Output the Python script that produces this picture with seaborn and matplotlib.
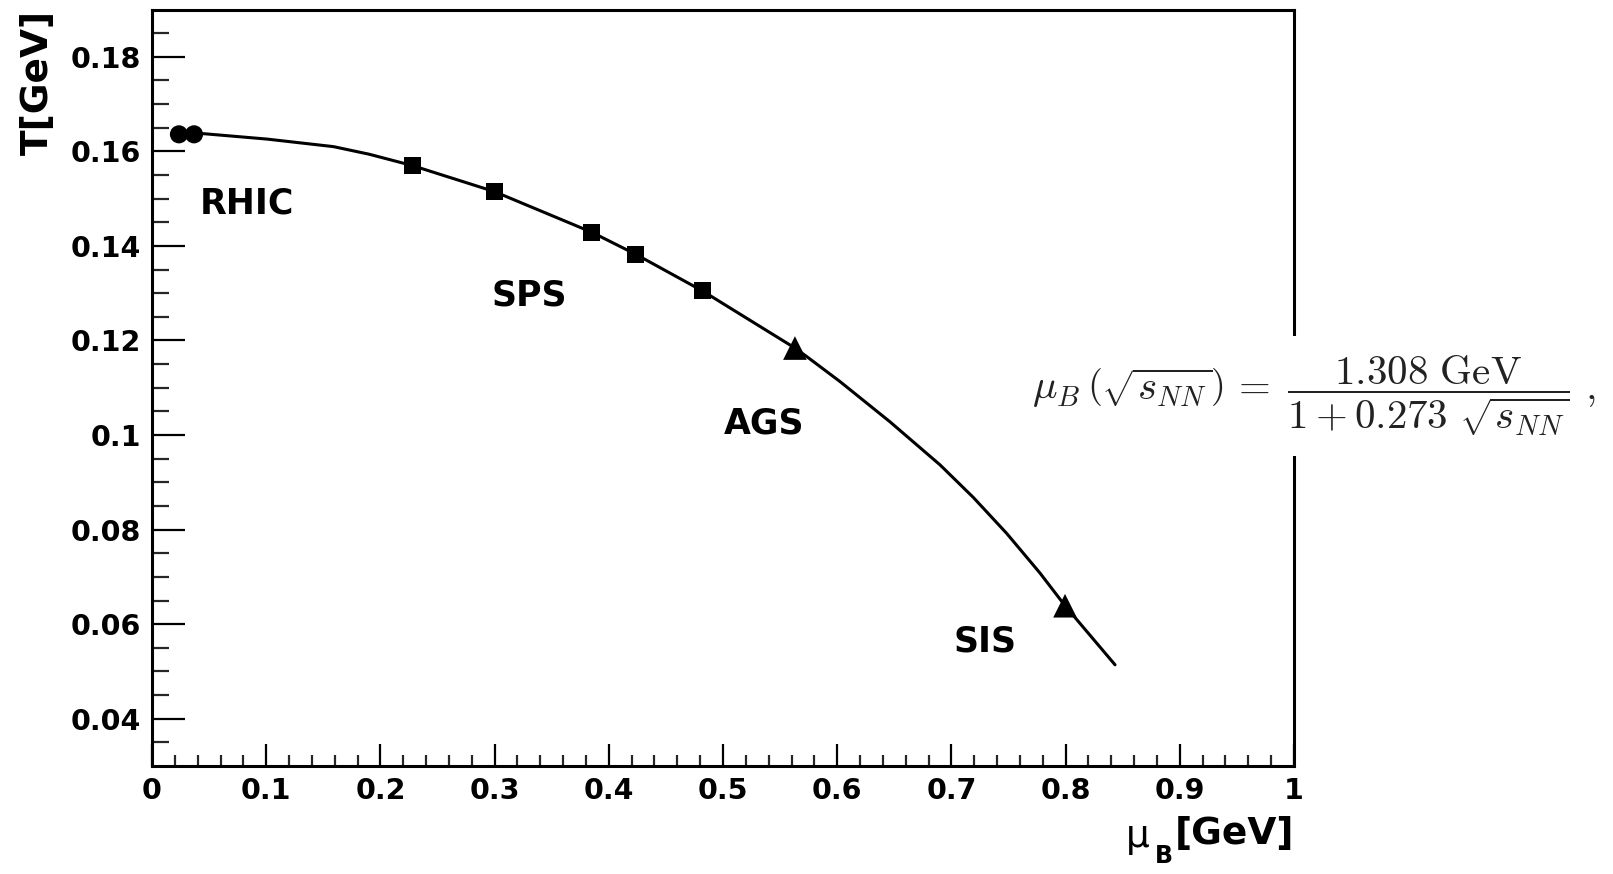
import numpy as np
import pandas as pd
import matplotlib
matplotlib.use("Agg")
import matplotlib.pyplot as plt
import seaborn as sns

# freeze-out curve
curve_mu = [0.0368, 0.042, 0.1004, 0.1588, 0.190, 0.2279, 0.2997, 0.3850, 0.4238,
            0.4819, 0.5630, 0.5733, 0.6025, 0.6462, 0.6900, 0.7192, 0.7484, 0.7776,
            0.7995, 0.8433]
curve_T = [0.1636, 0.1638, 0.1626, 0.1610, 0.1594, 0.1570, 0.1515, 0.1429, 0.1382,
           0.1305, 0.1184, 0.1166, 0.1113, 0.1028, 0.0937, 0.0868, 0.0792, 0.0708,
           0.0639, 0.0514]

# experimental points
rhic_mu = [0.0236, 0.0368]
rhic_T = [0.1636, 0.1636]
sps_mu = [0.2279, 0.2997, 0.3850, 0.4238, 0.4819]
sps_T = [0.1570, 0.1515, 0.1429, 0.1382, 0.1305]
ags_sis_mu = [0.5630, 0.7995]
ags_sis_T = [0.1184, 0.0639]

labels = ["RHIC", "SPS", "AGS", "SIS"]
label_mu = [0.0832, 0.330, 0.536, 0.729]
label_T = [0.1490, 0.1296, 0.1024, 0.0563]

xticks = [0, 0.1, 0.2, 0.3, 0.4, 0.5, 0.6, 0.7, 0.8, 0.9, 1.0]
xticklabels = ["0", "0.1", "0.2", "0.3", "0.4", "0.5", "0.6", "0.7", "0.8", "0.9", "1"]
yticks = [0.04, 0.06, 0.08, 0.10, 0.12, 0.14, 0.16, 0.18]
yticklabels = ["0.04", "0.06", "0.08", "0.1", "0.12", "0.14", "0.16", "0.18"]

sns.set_theme(style="ticks")
plt.rcParams["font.family"] = ["DejaVu Sans"]
plt.rcParams["font.weight"] = "bold"
plt.rcParams["axes.linewidth"] = 2.2

fig = plt.figure(figsize=(16.13, 8.74), dpi=100)
ax = fig.add_axes([0.09423, 0.12357, 0.708, 0.86556])

curve = pd.DataFrame({"mu": curve_mu, "T": curve_T})
sns.lineplot(data=curve, x="mu", y="T", sort=False, estimator=None,
             color="black", lw=2.2, ax=ax)
sns.scatterplot(x=rhic_mu, y=rhic_T, marker="o", s=170, color="black",
                edgecolor="none", ax=ax, zorder=3)
sns.scatterplot(x=sps_mu, y=sps_T, marker="s", s=150, color="black",
                edgecolor="none", ax=ax, zorder=3)
sns.scatterplot(x=ags_sis_mu, y=ags_sis_T, marker="^", s=290, color="black",
                edgecolor="none", ax=ax, zorder=3)

for name, xm, ym in zip(labels, label_mu, label_T):
    ax.text(xm, ym, name, ha="center", va="center", fontsize=25,
            fontweight="bold", color="black")

ax.set_xlim(0, 1)
ax.set_ylim(0.03, 0.19)
ax.set_xticks(xticks)
ax.set_xticklabels(xticklabels)
ax.set_xticks(np.arange(0, 1.0001, 0.02), minor=True)
ax.set_yticks(yticks)
ax.set_yticklabels(yticklabels)
ax.set_yticks(np.arange(0.035, 0.19, 0.005), minor=True)

ax.tick_params(axis="y", which="major", direction="in", length=24, width=1.6,
               labelsize=20.5, pad=8, colors="black")
ax.tick_params(axis="y", which="minor", direction="in", length=12, width=1.6)
ax.tick_params(axis="x", which="major", direction="in", length=16, width=1.6,
               labelsize=20.5, pad=8, colors="black")
ax.tick_params(axis="x", which="minor", direction="in", length=8, width=1.6)
for lab in ax.get_xticklabels() + ax.get_yticklabels():
    lab.set_fontweight("bold")

for sp in ax.spines.values():
    sp.set_visible(True)
    sp.set_color("black")
    sp.set_linewidth(2.2)

ax.set_ylabel("T[GeV]", loc="top", fontsize=27, fontweight="bold", color="black")
ax.yaxis.set_label_coords(-0.084, 1.0)
ax.set_xlabel("[GeV]", loc="right", fontsize=27, fontweight="bold", color="black")
ax.xaxis.set_label_coords(1.0, -0.066)
# mu_B part of the x title, thin mu with bold subscript B
ax.annotate("μ", xy=(0, 0.5), xycoords=ax.xaxis.label, xytext=(-18, -2),
            textcoords="offset points", ha="right", va="center", fontsize=27,
            fontweight="normal", color="black")
ax.annotate("B", xy=(0, 0.5), xycoords=ax.xaxis.label, xytext=(-1, -16),
            textcoords="offset points", ha="right", va="center", fontsize=17,
            fontweight="bold", color="black")

formula = (r"$\mu_B\,\left(\sqrt{s_{NN}}\right)\,=\;"
           r"\dfrac{1.308\ \mathrm{GeV}}{1+0.273\ \sqrt{s_{NN}}}\ ,$")
fig.text(1032 / 1613, 1 - 396 / 874, formula, ha="left", va="center",
         fontsize=29.5, color="#222222", math_fontfamily="cm",
         bbox=dict(facecolor="white", edgecolor="none", pad=13))

fig.savefig("out.png", dpi=100, facecolor="white")
